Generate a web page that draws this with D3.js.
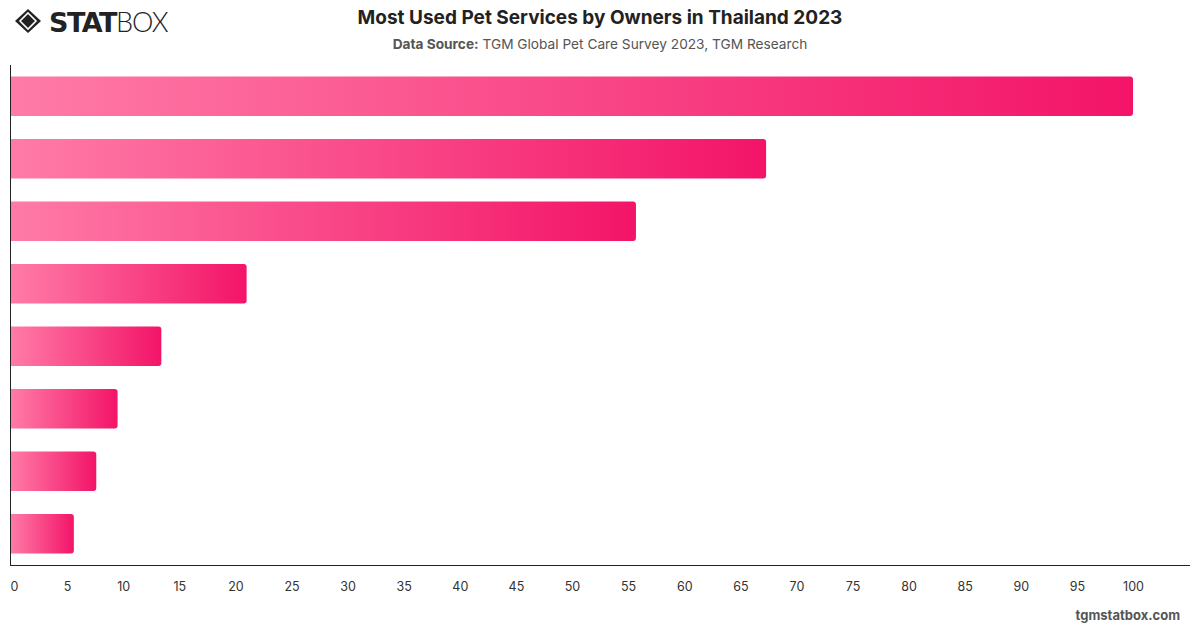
<!DOCTYPE html>
<html><head><meta charset="utf-8">
<script src="https://cdn.jsdelivr.net/npm/d3@7"></script>
<style>html,body{margin:0;padding:0;background:#fff;}svg{display:block;font-family:Inter,"Liberation Sans",sans-serif;}</style>
</head><body><svg id="c" width="1200" height="628"></svg>
<script>
const categories = ["Veterinary care","Pet food delivery","Pet grooming","Pet insurance","Pet boarding","Pet training","Pet sitting","Dog walking"];
const values = [100, 67.3, 55.7, 21.0, 13.4, 9.5, 7.6, 5.6];
const tickValues = [0,5,10,15,20,25,30,35,40,45,50,55,60,65,70,75,80,85,90,95,100];
const title = "Most Used Pet Services by Owners in Thailand 2023";
const sourceLabel = "Data Source:";
const sourceText = " TGM Global Pet Care Survey 2023, TGM Research";
const footer = "tgmstatbox.com";

(function(){
const svg = d3.select("#c");
const pL = 11, pR = 1190, pT = 65, pB = 565;
const x = d3.scaleLinear().domain([0,100]).range([pL, 1133]);
const y = d3.scaleBand().domain(categories).range([pT, pB]).paddingInner(0.37).paddingOuter(0.185);

const defs = svg.append("defs");
const g = defs.append("linearGradient").attr("id","grad").attr("x1","0").attr("x2","1").attr("y1","0").attr("y2","0");
g.append("stop").attr("offset","0%").attr("stop-color","#ff7ba7");
g.append("stop").attr("offset","100%").attr("stop-color","#f31468");

const r = 3;
svg.append("g").selectAll("path").data(values).join("path")
  .attr("fill","url(#grad)")
  .attr("d",(d,i)=>{
    const x0 = x(0), x1 = x(d), y0 = y(categories[i]), h = y.bandwidth();
    return `M${x0},${y0}H${x1-r}Q${x1},${y0} ${x1},${y0+r}V${y0+h-r}Q${x1},${y0+h} ${x1-r},${y0+h}H${x0}Z`;
  });

svg.append("line").attr("x1",pL-0.5).attr("x2",pL-0.5).attr("y1",pT).attr("y2",pB+0.5).attr("stroke","#222").attr("stroke-width",1);
svg.append("line").attr("x1",pL-1).attr("x2",pR).attr("y1",pB+0.5).attr("y2",pB+0.5).attr("stroke","#222").attr("stroke-width",1);

const xAxis = d3.axisBottom(x).tickValues(tickValues).tickSize(0).tickPadding(0);
const ax = svg.append("g").attr("transform",`translate(0,${pB+17})`).call(xAxis);
ax.select(".domain").remove();
ax.selectAll("text").attr("font-size",12.5).attr("fill","#333").attr("font-family","Inter,'Liberation Sans',sans-serif").attr("dx",(d)=>d===0?3:0);

svg.append("text").attr("x",600).attr("y",24).attr("text-anchor","middle").attr("font-size",19).attr("font-weight",700).attr("fill","#222").text(title);
const st = svg.append("text").attr("x",600).attr("y",49).attr("text-anchor","middle").attr("font-size",13.7).attr("fill","#555");
st.append("tspan").attr("font-weight",700).text(sourceLabel);
st.append("tspan").text(sourceText);

svg.append("text").attr("x",1180).attr("y",620).attr("text-anchor","end").attr("font-size",13).attr("font-weight",700).attr("fill","#555").text(footer);

const lg = svg.append("g").attr("transform","translate(28,21)");
lg.append("path").attr("d","M0,-12L13,0L0,12L-13,0Z").attr("fill","#222");
lg.append("path").attr("d","M0,-8L8,0L0,8L-8,0Z").attr("fill","none").attr("stroke","#fff").attr("stroke-width",1.6);
lg.append("path").attr("d","M0,-4L4,0L0,4L-4,0Z").attr("fill","#222");
const lt = svg.append("text").attr("x",49).attr("y",32).attr("font-size",27).attr("fill","#222").attr("font-family","'DejaVu Sans',sans-serif");
lt.append("tspan").attr("font-weight",900).attr("letter-spacing",-1.5).text("STAT");
lt.append("tspan").attr("font-weight",300).attr("font-family","Lato,sans-serif").attr("letter-spacing",-1).text("BOX");
})();
</script></body></html>
